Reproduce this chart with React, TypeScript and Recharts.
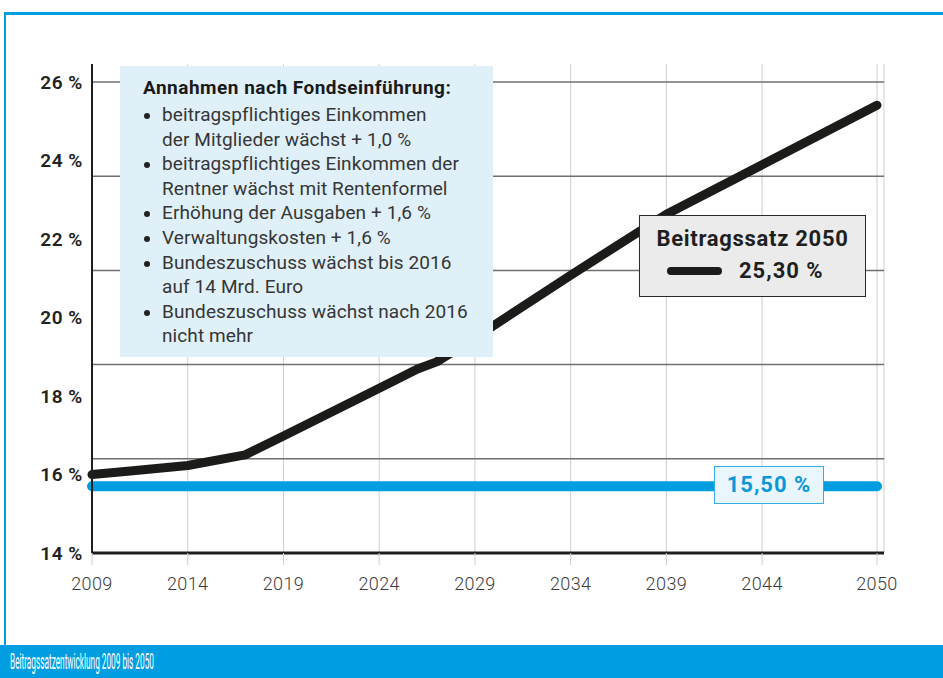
import React from 'react';
import { LineChart, Line, XAxis, YAxis, CartesianGrid, ReferenceLine } from 'recharts';

// Beitragssatz in %
const years = [2009, 2011, 2014, 2017, 2019, 2024, 2026, 2027, 2029, 2034, 2039, 2044, 2050];
const rateWithFund = [16.0, 16.09, 16.23, 16.5, 16.98, 18.2, 18.69, 18.87, 19.48, 21.08, 22.63, 23.89, 25.41];
const rateFixed = [15.7, 15.7, 15.7, 15.7, 15.7, 15.7, 15.7, 15.7, 15.7, 15.7, 15.7, 15.7, 15.7];

const xTicks = [2009, 2014, 2019, 2024, 2029, 2034, 2039, 2044, 2050];
const yTicks = [14, 16, 18, 20, 22, 24, 26];
// the dark horizontal rules do not sit on the tick labels in the original
const ruleLevels = [16.4, 18.8, 21.2, 23.6, 26];

const assumptionsTitle = 'Annahmen nach Fondseinführung:';
const assumptions = [
  ['beitragspflichtiges Einkommen', 'der Mitglieder wächst + 1,0 %'],
  ['beitragspflichtiges Einkommen der', 'Rentner wächst mit Rentenformel'],
  ['Erhöhung der Ausgaben + 1,6 %'],
  ['Verwaltungskosten + 1,6 %'],
  ['Bundeszuschuss wächst bis 2016', 'auf 14 Mrd. Euro'],
  ['Bundeszuschuss wächst nach 2016', 'nicht mehr'],
];

const FONT = 'Roboto, "DejaVu Sans", sans-serif';
const BLUE = '#009ee0';
const BLACK = '#1b1b19';

const data = years.map((year, i) => ({
  year,
  fund: rateWithFund[i],
  fixed: rateFixed[i],
}));

export default function App() {
  return (
    <div
      style={{
        position: 'absolute',
        left: 0,
        top: 0,
        width: 943,
        height: 678,
        background: '#fff',
        overflow: 'hidden',
        fontFamily: FONT,
      }}
    >
      {/* frame */}
      <div style={{ position: 'absolute', left: 4, top: 12, width: 960, height: 3, background: BLUE }} />
      <div style={{ position: 'absolute', left: 4, top: 12, width: 2, height: 640, background: BLUE }} />

      <div style={{ position: 'absolute', left: 0, top: 0 }}>
        <LineChart width={943} height={678} data={data} margin={{ top: 64, right: 59, left: 0, bottom: 85 }}>
          <CartesianGrid horizontal={false} stroke="#cfcfcf" strokeWidth={1} />
          {ruleLevels.map((v) => (
            <ReferenceLine key={v} y={v} stroke="#6f6f6f" strokeWidth={1.5} />
          ))}
          <XAxis
            type="number"
            dataKey="year"
            domain={[2009, 2050]}
            ticks={xTicks}
            interval={0}
            padding={{ left: 0, right: 7 }}
            height={40}
            tickSize={12}
            tickMargin={12}
            tickLine={{ stroke: '#cfcfcf', strokeWidth: 1 }}
            axisLine={{ stroke: '#1e1e1e', strokeWidth: 3 }}
            tick={{ fontSize: 18, fill: '#3c3c3c', fontWeight: 300, fontFamily: FONT, letterSpacing: 0.4 }}
          />
          <YAxis
            type="number"
            domain={[14, 26.46]}
            ticks={yTicks}
            interval={0}
            width={92}
            tickSize={0}
            tickMargin={9}
            tickLine={false}
            axisLine={{ stroke: '#1e1e1e', strokeWidth: 2 }}
            tick={{ fontSize: 19, fill: '#222', fontWeight: 600, fontFamily: FONT, letterSpacing: 0.8 }}
            tickFormatter={(v: number) => `${v}\u2009%`}
          />
          <Line
            type="linear"
            dataKey="fund"
            stroke={BLACK}
            strokeWidth={9}
            strokeLinecap="round"
            strokeLinejoin="round"
            dot={false}
            activeDot={false}
            isAnimationActive={false}
          />
          <Line
            type="linear"
            dataKey="fixed"
            stroke={BLUE}
            strokeWidth={10}
            strokeLinecap="round"
            dot={false}
            activeDot={false}
            isAnimationActive={false}
          />
        </LineChart>
      </div>

      {/* assumptions box */}
      <div
        style={{
          position: 'absolute',
          left: 120,
          top: 66,
          width: 373,
          height: 291,
          background: '#e0f0f9',
        }}
      >
        <div
          style={{
            position: 'absolute',
            left: 23,
            top: 10,
            fontSize: 19,
            lineHeight: '24px',
            fontWeight: 700,
            letterSpacing: 0.5,
            color: '#1a1a1a',
            whiteSpace: 'nowrap',
          }}
        >
          {assumptionsTitle}
        </div>
        <div
          style={{
            position: 'absolute',
            left: 0,
            top: 37,
            fontSize: 19,
            lineHeight: '24.6px',
            letterSpacing: 0.1,
            color: '#363636',
          }}
        >
          {assumptions.map((lines, i) => (
            <div key={i} style={{ position: 'relative', paddingLeft: 42, whiteSpace: 'nowrap' }}>
              <span
                style={{
                  position: 'absolute',
                  left: 24,
                  top: 10,
                  width: 6,
                  height: 6,
                  borderRadius: 3,
                  background: '#222',
                }}
              />
              {lines.map((l, j) => (
                <div key={j}>{l}</div>
              ))}
            </div>
          ))}
        </div>
      </div>

      {/* Beitragssatz 2050 box */}
      <div
        style={{
          position: 'absolute',
          left: 639,
          top: 215,
          width: 225,
          height: 80,
          background: '#ebebeb',
          border: '1.5px solid #2a2a2a',
        }}
      >
        <div
          style={{
            position: 'absolute',
            left: 0,
            width: '100%',
            top: 10,
            textAlign: 'center',
            fontSize: 22,
            lineHeight: '26px',
            fontWeight: 700,
            letterSpacing: 0.7,
            color: '#1f1f1f',
          }}
        >
          Beitragssatz 2050
        </div>
        <div style={{ position: 'absolute', left: 27, top: 51, width: 55, height: 8, borderRadius: 4, background: BLACK }} />
        <div
          style={{
            position: 'absolute',
            left: 99,
            top: 42,
            fontSize: 22,
            lineHeight: '26px',
            fontWeight: 700,
            letterSpacing: 1,
            color: '#1f1f1f',
          }}
        >
          25,30 %
        </div>
      </div>

      {/* 15,50 % box */}
      <div
        style={{
          position: 'absolute',
          left: 714,
          top: 466,
          width: 108,
          height: 36,
          background: '#eaf6fd',
          border: '1.5px solid #36ace4',
          textAlign: 'center',
          fontSize: 22,
          lineHeight: '36px',
          fontWeight: 700,
          letterSpacing: 1,
          color: '#0a98d8',
        }}
      >
        15,50 %
      </div>

      {/* footer */}
      <div style={{ position: 'absolute', left: 0, top: 645, width: 943, height: 33, background: BLUE }}>
        <div
          style={{
            position: 'absolute',
            left: 10,
            top: 5,
            fontSize: 22,
            lineHeight: '24px',
            color: '#fff',
            whiteSpace: 'nowrap',
            transform: 'scaleX(0.375)',
            transformOrigin: 'left center',
          }}
        >
          Beitragssatzentwicklung 2009 bis 2050
        </div>
      </div>
    </div>
  );
}
